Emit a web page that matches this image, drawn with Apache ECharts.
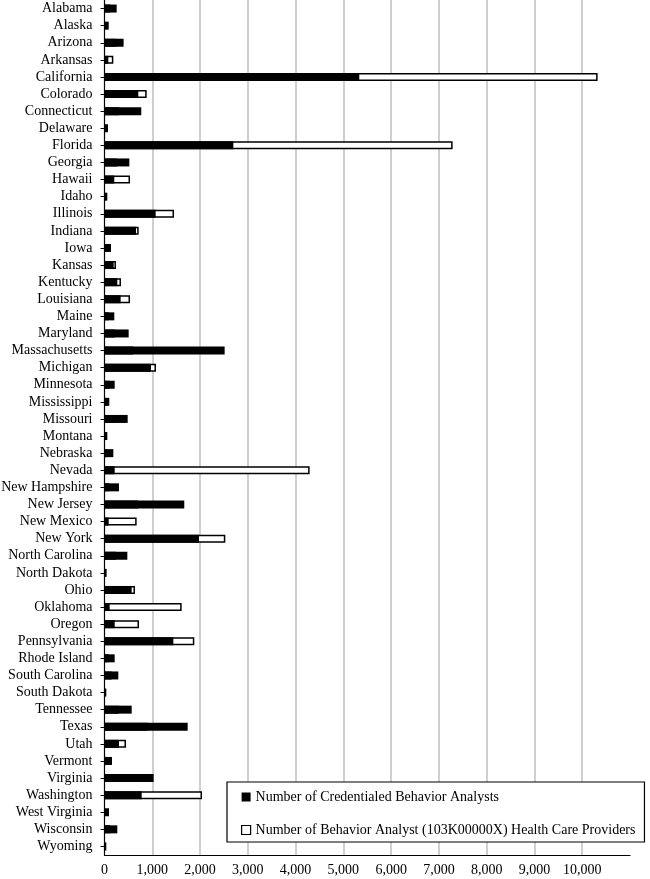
<!DOCTYPE html>
<html>
<head>
<meta charset="utf-8">
<script src="https://cdn.jsdelivr.net/npm/echarts@6/dist/echarts.min.js"></script>
<style>html,body{margin:0;padding:0;background:#fff}#c{width:650px;height:879px}</style>
</head>
<body>
<div id="c"></div>
<script>
const states = ["Alabama","Alaska","Arizona","Arkansas","California","Colorado","Connecticut","Delaware","Florida","Georgia","Hawaii","Idaho","Illinois","Indiana","Iowa","Kansas","Kentucky","Louisiana","Maine","Maryland","Massachusetts","Michigan","Minnesota","Mississippi","Missouri","Montana","Nebraska","Nevada","New Hampshire","New Jersey","New Mexico","New York","North Carolina","North Dakota","Ohio","Oklahoma","Oregon","Pennsylvania","Rhode Island","South Carolina","South Dakota","Tennessee","Texas","Utah","Vermont","Virginia","Washington","West Virginia","Wisconsin","Wyoming"];
const credentialed = [255,88,400,80,5333,708,770,73,2697,520,205,59,1071,660,136,192,268,338,205,506,2515,973,213,100,485,59,185,213,303,1670,88,1978,478,45,569,108,213,1441,213,289,38,569,1741,303,157,1029,778,94,268,38];
const providers = [120,20,250,185,10322,883,300,30,7287,260,534,20,1455,715,80,240,345,534,90,220,600,1078,110,40,200,15,60,4294,100,700,673,2529,240,10,638,1615,722,1880,90,150,10,300,900,450,50,500,2041,30,120,10];
const seriesNames = ["Number of Credentialed Behavior Analysts","Number of Behavior Analyst (103K00000X) Health Care Providers"];
const xMin = 0, xMax = 11000, xStep = 1000;

const font = "Liberation Serif";
const chart = echarts.init(document.getElementById('c'), null, {renderer:'canvas'});
chart.setOption({
  animation:false,
  backgroundColor:'#fff',
  textStyle:{fontFamily:font,color:'#000'},
  grid:{left:104.5,right:20,top:0,bottom:24,containLabel:false,outerBoundsMode:'none'},
  legend:{
    data:seriesNames,
    orient:'vertical',
    left:227, top:782,
    backgroundColor:'#fff',
    borderColor:'#000', borderWidth:1.2,
    padding:[8,9,5,14],
    itemGap:19,
    itemWidth:9, itemHeight:9,
    itemStyle:{borderWidth:1.2},
    textStyle:{fontFamily:font,fontSize:14,color:'#000'},
    icon:'rect'
  },
  xAxis:{
    type:'value', min:xMin, max:xMax, interval:xStep,
    axisLine:{show:true,lineStyle:{color:'#000',width:1.2}},
    axisTick:{show:false},
    axisLabel:{fontFamily:font,fontSize:14,color:'#000',margin:8,showMaxLabel:false,
      formatter:v=>v.toLocaleString('en-US')},
    splitLine:{show:true,showMinLine:false,showMaxLine:false,lineStyle:{color:'#bfbfbf',width:1.5}}
  },
  yAxis:{
    type:'category', data:states, inverse:true,
    axisLine:{show:true,lineStyle:{color:'#000',width:1.2}},
    axisTick:{show:true,alignWithLabel:true,length:4,lineStyle:{color:'#000'}},
    axisLabel:{fontFamily:font,fontSize:14,color:'#000',margin:12,interval:0}
  },
  series:[
    {name:seriesNames[1],type:'bar',data:providers,barWidth:8,barGap:'-100%',z:2,
     itemStyle:{color:'#fff',borderColor:'#000',borderWidth:1.5}},
    {name:seriesNames[0],type:'bar',data:credentialed,barWidth:8,barGap:'-100%',z:3,
     itemStyle:{color:'#000'}}
  ]
});
</script>
</body>
</html>
